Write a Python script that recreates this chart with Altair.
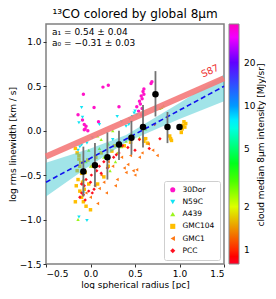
import altair as alt
import pandas as pd

# ---------------- data ----------------
regions = ["30Dor", "N59C", "A439", "GMC104", "GMC1", "PCC"]
region_shapes = ["circle", "triangle-down", "triangle-up", "square", "triangle-left", "diamond"]
region_colors = ["#ff14c8", "#10e4f4", "#9cf51c", "#ffbe00", "#ff7814", "#ff1020"]
region_8um = [30.0, 9.0, 3.0, 1.6, 1.25, 0.85]

dor_x = [-0.14, -0.09, -0.07, -0.06, -0.03, -0.07, -0.05, -0.08, 0.04, 0.09, 0.14, 0.20, 0.32,
         0.52, 0.55, 0.57, 0.59, 0.60, 0.58, 0.56, 0.54, 0.68, 0.69, 0.60, 0.57, 0.58]
dor_y = [0.18, 0.12, 0.07, 0.02, 0.00, 0.01, 0.05, 0.41, 0.26, 0.10, 0.49, 0.51, 0.27,
         0.27, 0.33, 0.39, 0.44, 0.47, 0.36, 0.30, 0.22, 0.53, 0.55, 0.41, 0.18, 0.25]

n59_x = [-0.10, -0.09, -0.13, 0.10, 0.49, 0.50, 0.47, 0.35, 0.44, 0.52, 0.30, -0.10, -0.04,
         -0.13, -0.04, -0.12, 0.02, 0.40, 0.43, -0.08, 0.25, -0.14]
n59_y = [0.26, 0.15, 0.09, 0.07, 0.20, 0.22, 0.16, 0.10, 0.13, 0.18, 0.16, -0.16, -0.14,
         -0.97, -1.01, -0.18, -0.08, 0.05, 0.07, -0.70, -0.10, -0.22]

a439_x = [-0.14, 0.08, 0.25, 0.80, 0.82, 0.78, -0.05, 0.00, 0.05, 0.10, 0.15, 0.22, 0.30, 0.35,
          0.40, 0.45, -0.10, -0.08, 0.12, 0.20, 0.55, 0.62, 0.28, -0.02]
a439_y = [-1.00, -0.06, 0.00, 0.26, 0.28, 0.25, -0.35, -0.40, -0.27, -0.20, -0.30, -0.45, -0.25, -0.18,
          -0.12, -0.05, -0.45, -0.55, -0.10, -0.15, -0.08, 0.02, -0.35, -0.22]

g104_x = [-0.17, -0.15, -0.13, -0.12, -0.10, -0.14, -0.16, -0.12, -0.10, -0.08, -0.05, 0.00, -0.17,
          -0.06, -0.03, 0.03, 0.06, 0.12, 0.24, 0.27, 0.38, 0.45, 0.60, 0.62, 0.64, 0.89, 0.90,
          0.91, 1.03, 1.04, 1.05, 1.06, 1.07, 1.02, 0.15, 0.20, -0.02, 0.08,
          -0.15, -0.11, -0.09, -0.13, -0.07]
g104_y = [-0.20, -0.25, -0.32, -0.40, -0.48, -0.55, -0.62, -0.68, -0.75, -0.80, -0.85, -0.89, -0.80,
          -0.47, -0.33, -0.40, -0.30, -0.25, -0.23, -0.17, -0.17, -0.13, -0.12, -0.09, -0.14, -0.06, -0.09,
          -0.11, 0.02, 0.06, 0.10, 0.04, 0.08, -0.02, -0.52, -0.40, -0.60, -0.60,
          -0.45, -0.36, -0.58, -0.28, -0.66]

g1_x = [0.12, 0.15, 0.10, 0.05, 0.20, 0.25, 0.38, 0.42, 0.40, 0.48, 0.50, 0.52, 0.55, 0.70, 0.75,
        0.65, 0.30, -0.05, 0.00, 0.08, -0.10, 0.35, 0.58, 0.45, 0.28, 0.18]
g1_y = [-0.50, -0.58, -0.65, -0.62, -0.35, -0.40, -0.42, -0.38, -0.47, -0.45, -0.50, -0.44, -0.30, -0.22, -0.28,
        -0.15, -0.55, -0.70, -0.75, -0.82, -0.60, -0.30, -0.25, -0.28, -0.62, -0.70]

pcc_x = [-0.10, -0.07, -0.05, 0.00, 0.01, 0.07, 0.10, 0.12, 0.19, 0.26, 0.29, 0.42, 0.50, 0.32,
         -0.10, -0.08, -0.06, -0.12, 0.02, 0.04, 0.15, 0.36, 0.55, 0.72, 0.78, 0.66, -0.02]
pcc_y = [-0.60, -0.62, -0.55, -0.58, -0.50, -0.45, -0.40, -0.48, -0.42, -0.30, -0.27, -0.19, -0.22, -0.25,
         -0.70, -0.72, -0.78, -0.75, -0.70, -0.66, -0.35, -0.17, -0.10, 0.07, -0.09, -0.20, -0.68]

# binned medians with error bars
med_x = [-0.08, 0.05, 0.19, 0.32, 0.46, 0.59, 0.73, 0.865, 1.00]
med_y = [-0.46, -0.39, -0.30, -0.155, -0.08, 0.04, 0.41, 0.04, 0.04]
med_lo = [-0.74, -0.63, -0.55, -0.33, -0.27, -0.19, 0.16, -0.14, 0.02]
med_hi = [-0.18, -0.14, -0.02, 0.00, 0.11, 0.29, 0.67, 0.21, 0.06]

# fit, its confidence band, and the S87 relation
fit_x = [-0.5, 1.5]
fit_y = [-0.58, 0.50]
band_x = [-0.5, 0.0, 0.4, 1.0, 1.5]
band_lo = [-0.74, -0.39, -0.13, 0.13, 0.33]
band_hi = [-0.36, -0.20, -0.05, 0.31, 0.63]
s87_x = [-0.5, 1.5]
s87_y = [-0.29, 0.59]

# gist_rainbow colour stops for the 8um colour bar
cmap_domain = [0.8, 0.90, 1.82, 3.70, 7.58, 15.3, 31.0, 37.0]
cmap_range = ["#ff0029", "#ff0000", "#ffff00", "#00ff00", "#00ffff", "#0000ff", "#ff00ff", "#ff00bf"]
cbar_ticks = [1, 2, 5, 10, 20]
cbar_title = "cloud median 8μm intensity [MJy/sr]"

# ---------------- tables ----------------
groups = [(dor_x, dor_y), (n59_x, n59_y), (a439_x, a439_y), (g104_x, g104_y), (g1_x, g1_y), (pcc_x, pcc_y)]
rows = []
for reg, inten, (gx, gy) in zip(regions, region_8um, groups):
    for xv, yv in zip(gx, gy):
        rows.append({"region": reg, "I8": inten, "x": xv, "y": yv})
pts = pd.DataFrame(rows)
med = pd.DataFrame({"x": med_x, "y": med_y, "lo": med_lo, "hi": med_hi})
fit = pd.DataFrame({"x": fit_x, "y": fit_y})
band = pd.DataFrame({"x": band_x, "lo": band_lo, "hi": band_hi})
s87 = pd.DataFrame({"x": s87_x, "y": s87_y})

FONT = "DejaVu Sans"
xs = alt.Scale(domain=[-0.5, 1.5], nice=False, zero=False)
ys = alt.Scale(domain=[-1.5, 1.2], nice=False, zero=False)
xax = alt.Axis(values=[-0.5, 0.0, 0.5, 1.0, 1.5], format=".1f", title="log spherical radius [pc]")
yax = alt.Axis(values=[-1.5, -1.0, -0.5, 0.0, 0.5, 1.0], format=".1f", title="log rms linewidth [km / s]")

X = alt.X("x:Q", scale=xs, axis=xax)
Y = alt.Y("y:Q", scale=ys, axis=yax)

leg = dict(orient="bottom-right", title=None, fillColor="white", strokeColor="#cfcfcf",
           cornerRadius=2, padding=5, offset=4, labelFontSize=7.5, symbolSize=26, rowPadding=3.2,
           symbolStrokeWidth=0, labelFont=FONT, labelOffset=6)

scatter = alt.Chart(pts).mark_point(filled=True, size=12, opacity=1).encode(
    x=X, y=Y,
    color=alt.Color("region:N", scale=alt.Scale(domain=regions, range=region_colors),
                    legend=alt.Legend(**leg)),
    shape=alt.Shape("region:N", scale=alt.Scale(domain=regions, range=region_shapes),
                    legend=alt.Legend(**leg)),
)

cbar = alt.Chart(pts).mark_point(filled=True, size=0, opacity=1).encode(
    x=X, y=Y,
    fill=alt.Fill("I8:Q",
                  scale=alt.Scale(type="log", domain=cmap_domain, range=cmap_range, interpolate="rgb"),
                  legend=alt.Legend(orient="right", direction="vertical", gradientLength=240,
                                    gradientThickness=10, offset=5, padding=0, gradientOpacity=1,
                                    values=cbar_ticks, format="d", title=None,
                                    labelFontSize=9, labelFont=FONT, labelOffset=5,
                                    gradientStrokeColor="#888888", gradientStrokeWidth=1)),
)

band_l = alt.Chart(band).mark_area(color="#2ec4cc", opacity=0.45).encode(
    x=alt.X("x:Q", scale=xs), y=alt.Y("lo:Q", scale=ys), y2="hi:Q")

s87_l = alt.Chart(s87).mark_line(color="#f47a7a", strokeWidth=6, opacity=0.9, strokeCap="butt").encode(
    x=alt.X("x:Q", scale=xs), y=alt.Y("y:Q", scale=ys))

fit_l = alt.Chart(fit).mark_line(color="#1010ee", strokeWidth=1.6, strokeDash=[5, 3]).encode(
    x=alt.X("x:Q", scale=xs), y=alt.Y("y:Q", scale=ys))

err = alt.Chart(med).mark_rule(color="#727272", strokeWidth=1.8).encode(
    x=alt.X("x:Q", scale=xs), y=alt.Y("lo:Q", scale=ys), y2="hi:Q")

dots = alt.Chart(med).mark_circle(color="black", size=42, opacity=1).encode(
    x=alt.X("x:Q", scale=xs), y=alt.Y("y:Q", scale=ys))

fit_txt = alt.Chart(pd.DataFrame({"t": ["a\u2081 = 0.54 \u00b1 0.04\na\u2080 = \u22120.31 \u00b1 0.03"]})).mark_text(
    align="left", baseline="top", fontSize=9, font=FONT, lineBreak="\n", lineHeight=10.5, color="black"
).encode(x=alt.value(6), y=alt.value(4), text="t:N")

s87_txt = alt.Chart(pd.DataFrame({"t": ["S87"]})).mark_text(
    fontSize=9.5, font=FONT, color="#ee3030", angle=336
).encode(x=alt.value(164), y=alt.value(47), text="t:N")

cbar_txt = alt.Chart(pd.DataFrame({"t": [cbar_title]})).mark_text(
    fontSize=9, font=FONT, color="black", angle=270, baseline="middle", align="center"
).encode(x=alt.value(215), y=alt.value(121), text="t:N")

chart = alt.layer(scatter, cbar, band_l, s87_l, fit_l, err, dots, fit_txt, s87_txt, cbar_txt).properties(
    width=178, height=240, padding=0,
    title=alt.TitleParams("\u00b9\u00b3CO colored by global 8μm", fontSize=12, font=FONT,
                          fontWeight="normal", offset=3, anchor="middle"),
).configure_view(
    stroke="#808080", strokeWidth=1.5
).configure_axis(
    grid=False, domain=False, tickColor="#333333", tickSize=3, labelFontSize=9, labelFont=FONT,
    titleFontSize=9, titleFont=FONT, titleFontWeight="normal", labelPadding=2, titlePadding=2,
    labelColor="black", titleColor="black"
)

chart.save("out.html", embed_options={"renderer": "svg", "actions": False})
